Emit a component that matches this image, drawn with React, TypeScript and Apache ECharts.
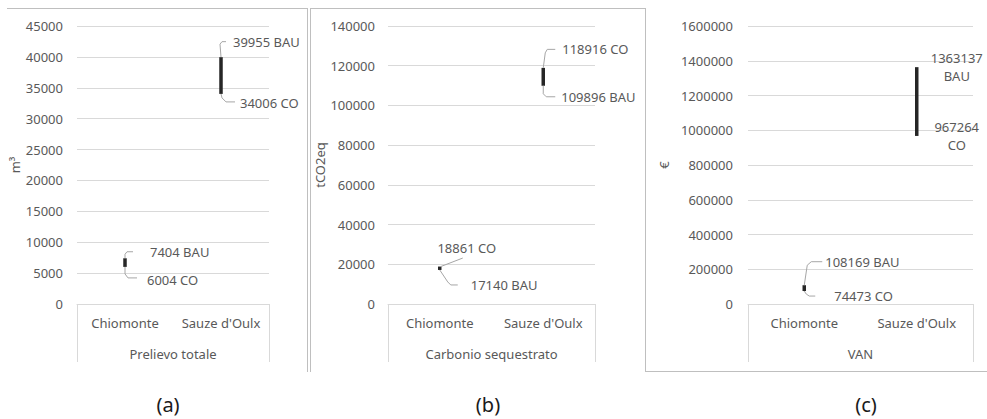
import React, { useEffect, useRef } from 'react';
import * as echarts from 'echarts';

// ---------- data ----------
const categories = ['Chiomonte', "Sauze d'Oulx"];
const groupLabels = ['Prelievo totale', 'Carbonio sequestrato', 'VAN'];
const axisNames = ['m³', 'tCO2eq', '€'];
const panelTags = ['(a)', '(b)', '(c)'];

const prelievoBAU = [7404, 39955];
const prelievoCO = [6004, 34006];
const carbonioBAU = [17140, 109896];
const carbonioCO = [18861, 118916];
const vanBAU = [108169, 1363137];
const vanCO = [74473, 967264];

const yMax = [45000, 140000, 1600000];
const yInterval = [5000, 20000, 200000];

const panelsBAU = [prelievoBAU, carbonioBAU, vanBAU];
const panelsCO = [prelievoCO, carbonioCO, vanCO];

// ---------- layout / styles ----------
const grids = [
  { left: 77, top: 26, width: 192, height: 278 },
  { left: 388, top: 26, width: 207, height: 278 },
  { left: 748, top: 26, width: 225, height: 278 },
];
const labelMargins = [14, 13, 15];
const nameGaps = [54, 55, 78];
const tagX = [168, 488, 866];

type Lbl = { pts: number[][] | null; lx: number; ly: number; align?: string; wrap?: boolean };
const layouts: { top: Lbl; bottom: Lbl }[][] = [
  [
    {
      top: { pts: [[0, 0], [0, -4], [2, -6.5], [8, -6.5]], lx: 25, ly: -6.5 },
      bottom: { pts: [[0, 0], [0, 7], [3, 11], [12, 11]], lx: 22, ly: 13 },
    },
    {
      top: { pts: [[0, 0], [-1, -13], [1, -15.5], [5, -15.5]], lx: 12, ly: -15.5 },
      bottom: { pts: [[0, 0], [1, 4], [5, 8], [14, 8]], lx: 19, ly: 9 },
    },
  ],
  [
    {
      top: { pts: [[1, 0], [23, -8.5]], lx: 27, ly: -19, align: 'center' },
      bottom: { pts: [[0, 0], [8, 12], [11, 15], [18, 15]], lx: 31, ly: 15 },
    },
    {
      top: { pts: [[0, 0], [2, -15], [4, -18.5], [12, -18.5]], lx: 19, ly: -18.5 },
      bottom: { pts: [[0, 0], [0, 8], [3, 11], [12, 11]], lx: 18, ly: 11 },
    },
  ],
  [
    {
      top: { pts: [[0, 0], [3, -20], [7, -23.5], [18, -23.5]], lx: 21, ly: -23 },
      bottom: { pts: [[0, 0], [2, 3], [5, 5], [11, 5]], lx: 30, ly: 5 },
    },
    {
      top: { pts: null, lx: 40, ly: 0, align: 'center', wrap: true },
      bottom: { pts: null, lx: 40, ly: 0, align: 'center', wrap: true },
    },
  ],
];

const FONT = '"Noto Sans", sans-serif';
const TEXT = '#595959';
const GRID = '#d9d9d9';
const BORDER = '#bfbfbf';

function buildOption() {
  const xAxis: any[] = [];
  const yAxis: any[] = [];
  const series: any[] = [];
  for (let p = 0; p < 3; p++) {
    xAxis.push({
      type: 'category',
      gridIndex: p,
      data: categories,
      position: 'bottom',
      axisLine: { show: true, lineStyle: { color: GRID } },
      axisTick: { show: false },
      axisLabel: { color: TEXT, fontSize: 13, fontFamily: FONT, margin: 12, interval: 0 },
    });
    xAxis.push({
      type: 'category',
      gridIndex: p,
      data: [groupLabels[p]],
      position: 'bottom',
      axisLine: { show: false },
      axisTick: { show: true, length: 58, lineStyle: { color: GRID } },
      axisLabel: { color: TEXT, fontSize: 13, fontFamily: FONT, margin: 43, interval: 0 },
    });
    yAxis.push({
      type: 'value',
      gridIndex: p,
      min: 0,
      max: yMax[p],
      interval: yInterval[p],
      name: axisNames[p],
      nameLocation: 'middle',
      nameRotate: 90,
      nameGap: nameGaps[p],
      nameTextStyle: { color: TEXT, fontSize: 13, fontFamily: FONT },
      axisLine: { show: false },
      axisTick: { show: false },
      axisLabel: {
        color: TEXT,
        fontSize: 13,
        fontFamily: FONT,
        margin: labelMargins[p],
        formatter: (v: number) => String(v),
      },
      splitLine: { show: true, lineStyle: { color: GRID, width: 1 } },
    });
    const bau = panelsBAU[p];
    const co = panelsCO[p];
    const data = categories.map((_, i) => [i, Math.min(bau[i], co[i]), Math.max(bau[i], co[i])]);
    const panel = p;
    series.push({
      type: 'custom',
      xAxisIndex: p * 2,
      yAxisIndex: p,
      clip: false,
      silent: true,
      data,
      renderItem: (params: any, api: any) => {
        const i = params.dataIndex;
        const x = api.value(0);
        const lo = api.value(1);
        const hi = api.value(2);
        const top = api.coord([x, hi]);
        const bot = api.coord([x, lo]);
        const bauHigh = panelsBAU[panel][i] >= panelsCO[panel][i];
        const topTxt = bauHigh ? [panelsBAU[panel][i], 'BAU'] : [panelsCO[panel][i], 'CO'];
        const botTxt = bauHigh ? [panelsCO[panel][i], 'CO'] : [panelsBAU[panel][i], 'BAU'];
        const lay = layouts[panel][i];
        const children: any[] = [
          {
            type: 'line',
            shape: { x1: top[0], y1: top[1], x2: bot[0], y2: bot[1] },
            style: { stroke: '#262626', lineWidth: 3.5 },
          },
        ];
        const addLabel = (anchor: number[], l: Lbl, t: any[]) => {
          if (l.pts) {
            children.push({
              type: 'polyline',
              shape: { points: l.pts.map((q) => [anchor[0] + q[0], anchor[1] + q[1]]) },
              style: { stroke: '#a6a6a6', lineWidth: 1, fill: 'none' },
            });
          }
          children.push({
            type: 'text',
            x: anchor[0] + l.lx,
            y: anchor[1] + l.ly,
            style: {
              text: l.wrap ? `${t[0]}\n${t[1]}` : `${t[0]} ${t[1]}`,
              fill: TEXT,
              font: `13px ${FONT}`,
              align: l.align || 'left',
              verticalAlign: 'middle',
              lineHeight: 18,
            },
          });
        };
        addLabel(top, lay.top, topTxt);
        addLabel(bot, lay.bottom, botTxt);
        return { type: 'group', children };
      },
    });
  }

  const line = (x1: number, y1: number, x2: number, y2: number) => ({
    type: 'line',
    shape: { x1, y1, x2, y2 },
    style: { stroke: BORDER, lineWidth: 1 },
    silent: true,
  });

  const graphic: any[] = [
    line(7, 8.5, 307.5, 8.5),
    line(307.5, 8, 307.5, 372),
    line(310.5, 8.5, 645.5, 8.5),
    line(310.5, 8, 310.5, 372),
    line(645.5, 8, 645.5, 371.5),
    line(645, 371.5, 987, 371.5),
    ...panelTags.map((t, k) => ({
      type: 'text',
      x: tagX[k],
      y: 404,
      silent: true,
      style: {
        text: t,
        fill: '#1a1a1a',
        font: `20px ${FONT}`,
        align: 'center',
        verticalAlign: 'middle',
      },
    })),
  ];

  return {
    animation: false,
    backgroundColor: '#ffffff',
    textStyle: { fontFamily: FONT },
    grid: grids.map((g) => ({ ...g, containLabel: false })),
    xAxis,
    yAxis,
    series,
    graphic,
  };
}

export default function App() {
  const ref = useRef<HTMLDivElement>(null);
  useEffect(() => {
    if (!ref.current) return;
    const chart = echarts.init(ref.current, undefined, { renderer: 'svg' });
    chart.setOption(buildOption() as any);
    return () => chart.dispose();
  }, []);
  return (
    <div
      ref={ref}
      style={{ position: 'absolute', left: 0, top: 0, width: 987, height: 419, background: '#fff' }}
    />
  );
}
